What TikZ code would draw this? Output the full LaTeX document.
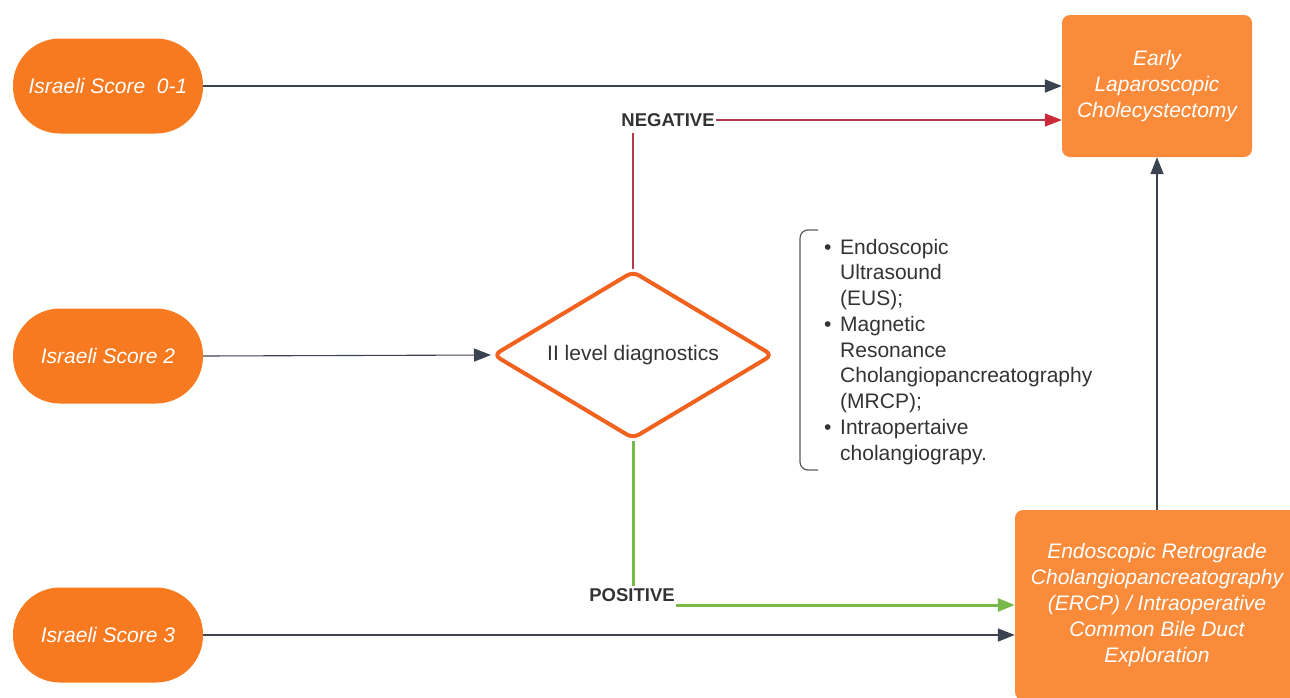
\documentclass[tikz,border=0pt]{standalone}
\usepackage{fontspec}
\setmainfont{Liberation Sans}
\usetikzlibrary{shapes.geometric,arrows.meta}
\definecolor{pillorange}{HTML}{F87A20}
\definecolor{boxorange}{HTML}{FA8B3B}
\definecolor{diaorange}{HTML}{F0621E}
\definecolor{darkline}{HTML}{3B4250}
\definecolor{redline}{HTML}{B43C4A}
\definecolor{redtip}{HTML}{CC2A3A}
\definecolor{greenline}{HTML}{79B94A}
\definecolor{txt}{HTML}{333333}
\tikzset{
  pill/.style={fill=pillorange, rounded corners=47pt, minimum width=190pt, minimum height=95pt,
    text=white, font=\fontsize{21}{26}\selectfont\itshape, inner sep=0pt},
  resultbox/.style={fill=boxorange, rounded corners=8pt, text=white, align=center,
    font=\fontsize{21}{26}\selectfont\itshape, inner sep=0pt},
  decision/.style={shape=diamond, draw=diaorange, line width=4pt, rounded corners=7pt,
    minimum width=280pt, minimum height=168pt, aspect=1.66, inner sep=0pt,
    text=txt, font=\fontsize{21}{24}\selectfont},
  lbl/.style={text=txt, font=\fontsize{18.5}{20}\selectfont\bfseries, inner sep=1pt},
  tip/.style={-{Triangle[length=17pt,width=13pt]}},
}
\begin{document}
\begin{tikzpicture}[x=1pt,y=-1pt]
\useasboundingbox (0,0) rectangle (1290,697);
% start nodes
\node[pill] (p1) at (108,86) {Israeli Score\ \ 0-1};
\node[pill] (p2) at (108,356) {Israeli Score 2};
\node[pill] (p3) at (108,635) {Israeli Score 3};
% results
\node[resultbox, minimum width=190pt, minimum height=142pt] (early) at (1157,86)
  {Early\\Laparoscopic\\Cholecystectomy};
\node[resultbox, minimum width=284pt, minimum height=190pt] (ercp) at (1157,605)
  {Endoscopic Retrograde\\Cholangiopancreatography\\(ERCP) / Intraoperative\\Common Bile Duct\\Exploration};
% decision
\node[decision] (dia) at (633,355) {II level diagnostics};
% labels
\node[lbl] (neg) at (668,120) {NEGATIVE};
\node[lbl] (pos) at (632,595) {POSITIVE};
\coordinate (posout) at ([xshift=0pt,yshift=-10pt]pos.east);
% list
\node[anchor=base west, inner sep=0pt, text=txt, font=\fontsize{21}{25.75}\selectfont] (list) at (824,254)
{\begin{tabular}[t]{@{}p{16pt}@{}l@{}}
\textbullet & Endoscopic\\
 & Ultrasound\\
 & (EUS);\\
\textbullet & Magnetic\\
 & Resonance\\
 & Cholangiopancreatography\\
 & (MRCP);\\
\textbullet & Intraopertaive\\
 & cholangiograpy.
\end{tabular}};
\coordinate (brtop) at (818,230);
\coordinate (brbot) at (818,470);
\draw[line width=1.2pt, draw=black!65, rounded corners=8pt] (brtop) -- ([xshift=-18pt]brtop) -- ([xshift=-18pt]brbot) -- (brbot);
% connectors
\draw[tip, darkline, line width=2pt] (p1.east) -- (p1.east -| early.west);
\draw[redline, line width=1.3pt] (dia.north) -- ([yshift=-5pt]dia.north |- neg.south);
\draw[-{Triangle[length=17pt,width=13pt,color=redtip]}, redline, line width=1.3pt] (neg.east) -- (neg.east -| early.west);
\draw[tip, darkline, line width=1.1pt] (p2.east) -- (dia.west);
\draw[greenline, line width=3pt] (dia.south) -- ([yshift=1pt]dia.south |- pos.north);
\draw[tip, greenline, line width=3pt] (posout) -- (posout -| ercp.west);
\draw[tip, darkline, line width=1.5pt] (p3.east) -- (p3.east -| ercp.west);
\draw[tip, darkline, line width=1.5pt] (ercp.north -| early.south) -- (early.south);
\end{tikzpicture}
\end{document}
